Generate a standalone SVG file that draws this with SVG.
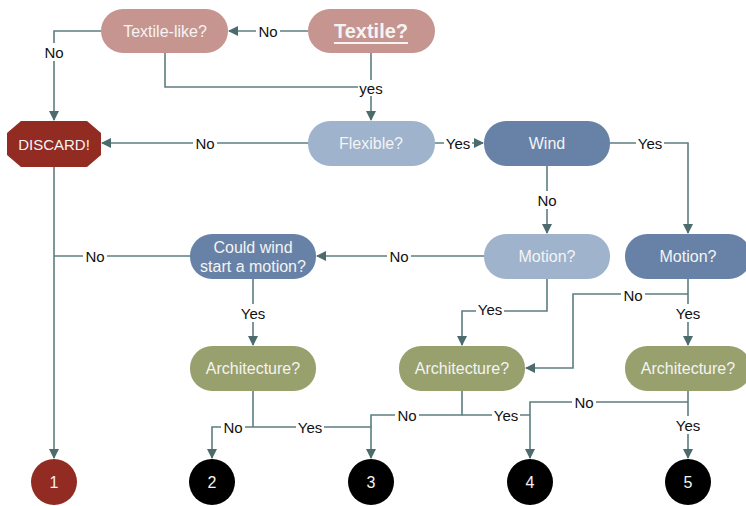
<svg xmlns="http://www.w3.org/2000/svg" width="746" height="506" viewBox="0 0 746 506">
  <defs>
    <marker id="arrow" viewBox="0 0 10 10" refX="9" refY="5" markerWidth="10" markerHeight="10" markerUnits="userSpaceOnUse" orient="auto">
      <path d="M0,0 L10,5 L0,10 z" fill="#4b6b6c"/>
    </marker>
    <style>
      .edge { fill: none; stroke: #5d7e7f; stroke-width: 1.6; }
      .arr { marker-end: url(#arrow); }
      .lbl-bg { fill: #ffffff; }
      .lbl { font-family: "Liberation Sans", "DejaVu Sans", sans-serif; font-size: 15px; fill: #111; text-anchor: middle; dominant-baseline: central; }
      .ntxt { font-family: "Liberation Sans", "DejaVu Sans", sans-serif; font-size: 16px; fill: #f4f4f4; text-anchor: middle; dominant-baseline: central; }
      .big { font-size: 20px; font-weight: bold; text-decoration: underline; }
      .pink { fill: #c6958f; }
      .lblue { fill: #9fb3cc; }
      .dblue { fill: #6782a6; }
      .green { fill: #98a06d; }
      .red { fill: #922b22; }
      .black { fill: #000000; }
    </style>
  </defs>

  <!-- connectors -->
  <g id="connectors">
    <path class="edge arr" d="M308,31 H229"/>
    <path class="edge arr" d="M101,31 H54 V120"/>
    <path class="edge" d="M165,53 V87 H371"/>
    <path class="edge arr" d="M371,53 V120"/>
    <path class="edge arr" d="M308,143 H102"/>
    <path class="edge arr" d="M435,143 H483"/>
    <path class="edge arr" d="M610,143 H688 V233"/>
    <path class="edge arr" d="M547,166 V233"/>
    <path class="edge arr" d="M484,256 H317"/>
    <path class="edge" d="M190,256 H54"/>
    <path class="edge arr" d="M54,167 V458"/>
    <path class="edge arr" d="M253,279 V345"/>
    <path class="edge arr" d="M547,279 V311 H462 V345"/>
    <path class="edge arr" d="M688,279 V345"/>
    <path class="edge arr" d="M688,294 H573 V368 H526"/>
    <path class="edge" d="M253,391 V427"/>
    <path class="edge arr" d="M253,427 H212 V458"/>
    <path class="edge arr" d="M253,427 H371 V458"/>
    <path class="edge" d="M462,391 V415 H371 V427"/>
    <path class="edge" d="M462,415 H530"/>
    <path class="edge arr" d="M688,391 V458"/>
    <path class="edge arr" d="M688,402 H530 V458"/>

    <!-- connector labels -->
    <rect class="lbl-bg" x="256" y="23" width="24" height="16"/><text class="lbl" x="268" y="31">No</text>
    <rect class="lbl-bg" x="42" y="43" width="24" height="18"/><text class="lbl" x="54" y="52">No</text>
    <rect class="lbl-bg" x="358" y="80" width="26" height="16"/><text class="lbl" x="371" y="88">yes</text>
    <rect class="lbl-bg" x="193" y="135" width="24" height="16"/><text class="lbl" x="205" y="143">No</text>
    <rect class="lbl-bg" x="444" y="135" width="28" height="16"/><text class="lbl" x="458" y="143">Yes</text>
    <rect class="lbl-bg" x="636" y="135" width="28" height="16"/><text class="lbl" x="650" y="143">Yes</text>
    <rect class="lbl-bg" x="535" y="191" width="24" height="18"/><text class="lbl" x="547" y="200">No</text>
    <rect class="lbl-bg" x="387" y="248" width="24" height="16"/><text class="lbl" x="399" y="256">No</text>
    <rect class="lbl-bg" x="83" y="248" width="24" height="16"/><text class="lbl" x="95" y="256">No</text>
    <rect class="lbl-bg" x="239" y="304" width="28" height="18"/><text class="lbl" x="253" y="313">Yes</text>
    <rect class="lbl-bg" x="476" y="302" width="28" height="16"/><text class="lbl" x="490" y="309">Yes</text>
    <rect class="lbl-bg" x="621" y="287" width="24" height="16"/><text class="lbl" x="633" y="295">No</text>
    <rect class="lbl-bg" x="674" y="304" width="28" height="18"/><text class="lbl" x="688" y="313">Yes</text>
    <rect class="lbl-bg" x="221" y="419" width="24" height="16"/><text class="lbl" x="233" y="427">No</text>
    <rect class="lbl-bg" x="296" y="419" width="28" height="16"/><text class="lbl" x="310" y="427">Yes</text>
    <rect class="lbl-bg" x="395" y="407" width="24" height="16"/><text class="lbl" x="407" y="415">No</text>
    <rect class="lbl-bg" x="492" y="407" width="28" height="16"/><text class="lbl" x="506" y="415">Yes</text>
    <rect class="lbl-bg" x="572" y="394" width="24" height="16"/><text class="lbl" x="584" y="402">No</text>
    <rect class="lbl-bg" x="674" y="416" width="28" height="18"/><text class="lbl" x="688" y="425">Yes</text>
  </g>

  <!-- decision nodes -->
  <g id="textile">
    <rect class="pink" x="308" y="9" width="127" height="44" rx="22"/>
    <text class="ntxt big" x="371" y="31">Textile?</text>
  </g>
  <g id="textile-like">
    <rect class="pink" x="101" y="9" width="127" height="44" rx="22"/>
    <text class="ntxt" x="165" y="31">Textile-like?</text>
  </g>
  <g id="discard">
    <polygon class="red" points="21,121 87,121 101,133 101,155 87,167 21,167 7,155 7,133"/>
    <text class="ntxt" x="54" y="144" style="font-size:15px">DISCARD!</text>
  </g>
  <g id="flexible">
    <rect class="lblue" x="308" y="121" width="127" height="45" rx="22"/>
    <text class="ntxt" x="371" y="143">Flexible?</text>
  </g>
  <g id="wind">
    <rect class="dblue" x="484" y="121" width="126" height="45" rx="22"/>
    <text class="ntxt" x="547" y="143">Wind</text>
  </g>
  <g id="motion-light">
    <rect class="lblue" x="484" y="234" width="126" height="45" rx="22"/>
    <text class="ntxt" x="547" y="256">Motion?</text>
  </g>
  <g id="motion-dark">
    <rect class="dblue" x="625" y="234" width="126" height="45" rx="22"/>
    <text class="ntxt" x="688" y="256">Motion?</text>
  </g>
  <g id="could-wind">
    <rect class="dblue" x="190" y="234" width="126" height="45" rx="22"/>
    <text class="ntxt" x="253" y="247">Could wind</text>
    <text class="ntxt" x="253" y="266">start a motion?</text>
  </g>
  <g id="architecture-1">
    <rect class="green" x="190" y="346" width="126" height="45" rx="22"/>
    <text class="ntxt" x="253" y="368">Architecture?</text>
  </g>
  <g id="architecture-2">
    <rect class="green" x="399" y="346" width="126" height="45" rx="22"/>
    <text class="ntxt" x="462" y="368">Architecture?</text>
  </g>
  <g id="architecture-3">
    <rect class="green" x="625" y="346" width="126" height="45" rx="22"/>
    <text class="ntxt" x="688" y="368">Architecture?</text>
  </g>

  <!-- outcome nodes -->
  <g id="outcome-1">
    <ellipse class="red" cx="54" cy="482" rx="23" ry="23"/>
    <text class="ntxt" x="54" y="482">1</text>
  </g>
  <g id="outcome-2">
    <ellipse class="black" cx="212" cy="482" rx="23" ry="23"/>
    <text class="ntxt" x="212" y="482">2</text>
  </g>
  <g id="outcome-3">
    <ellipse class="black" cx="371" cy="482" rx="23" ry="23"/>
    <text class="ntxt" x="371" y="482">3</text>
  </g>
  <g id="outcome-4">
    <ellipse class="black" cx="530" cy="482" rx="23" ry="23"/>
    <text class="ntxt" x="530" y="482">4</text>
  </g>
  <g id="outcome-5">
    <ellipse class="black" cx="688" cy="482" rx="23" ry="23"/>
    <text class="ntxt" x="688" y="482">5</text>
  </g>
</svg>
